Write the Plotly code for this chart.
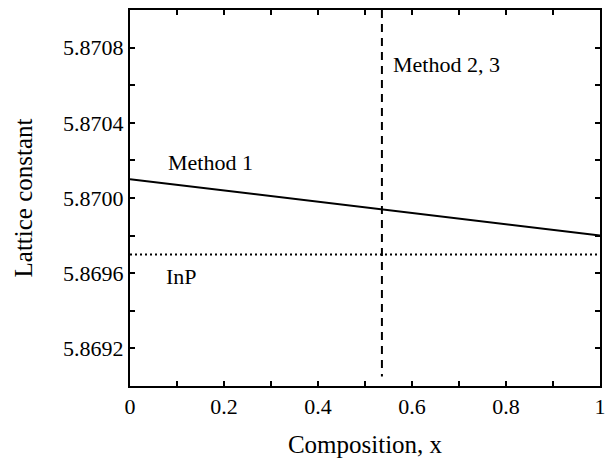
import plotly.graph_objects as go

# Lattice constant vs. composition
comp = [0.0, 1.0]
method1 = [5.87010, 5.86980]
inp_const = 5.86970
method23_x = 0.536

y_ticks = [5.8692, 5.8696, 5.8700, 5.8704, 5.8708]
x_ticks = [0, 0.2, 0.4, 0.6, 0.8, 1]
x_labels = ["0", "0.2", "0.4", "0.6", "0.8", "1"]

y_min, y_max = 5.8690, 5.8710

font = "Liberation Serif, Times New Roman, serif"

fig = go.Figure()
fig.add_trace(go.Scatter(x=comp, y=method1, mode="lines",
                         line=dict(color="black", width=2), showlegend=False))
fig.add_trace(go.Scatter(x=comp, y=[inp_const, inp_const], mode="lines",
                         line=dict(color="black", width=2, dash="2px,3px"), showlegend=False))
fig.add_trace(go.Scatter(x=[method23_x, method23_x], y=[y_max, 5.86905], mode="lines",
                         line=dict(color="black", width=2, dash="8px,6px"), showlegend=False))

ann_font = dict(size=22, family=font, color="black")
fig.add_annotation(x=0.076, y=5.87019, text="Method 1", showarrow=False,
                   xanchor="left", yanchor="middle", font=ann_font)
fig.add_annotation(x=0.556, y=5.87071, text="Method 2, 3", showarrow=False,
                   xanchor="left", yanchor="middle", font=ann_font)
fig.add_annotation(x=0.073, y=5.86958, text="InP", showarrow=False,
                   xanchor="left", yanchor="middle", font=ann_font)

axis_common = dict(showline=True, linecolor="black", linewidth=2, mirror="ticks",
                   ticks="inside", ticklen=5, tickwidth=1.5, tickcolor="black",
                   showgrid=False, zeroline=False, ticklabeloverflow="allow",
                   tickfont=dict(size=22, family=font, color="black"))

fig.update_xaxes(range=[0, 1], tickvals=x_ticks, ticktext=x_labels,
                 minor=dict(dtick=0.1, tick0=0, ticks="inside", ticklen=5, tickcolor="black", tickwidth=1.5),
                 title=dict(text="Composition, x", font=dict(size=25, family=font, color="black"), standoff=17),
                 **axis_common)
fig.update_yaxes(range=[y_min, y_max], tickvals=y_ticks, tickformat=".4f",
                 minor=dict(dtick=0.0002, tick0=5.8690, ticks="inside", ticklen=5, tickcolor="black", tickwidth=1.5),
                 title=dict(text="Lattice constant", font=dict(size=25, family=font, color="black"), standoff=23),
                 **axis_common)

fig.update_layout(width=608, height=458, margin=dict(l=130, r=2, t=10, b=72),
                  plot_bgcolor="white", paper_bgcolor="white")

fig.write_html("out.html")
